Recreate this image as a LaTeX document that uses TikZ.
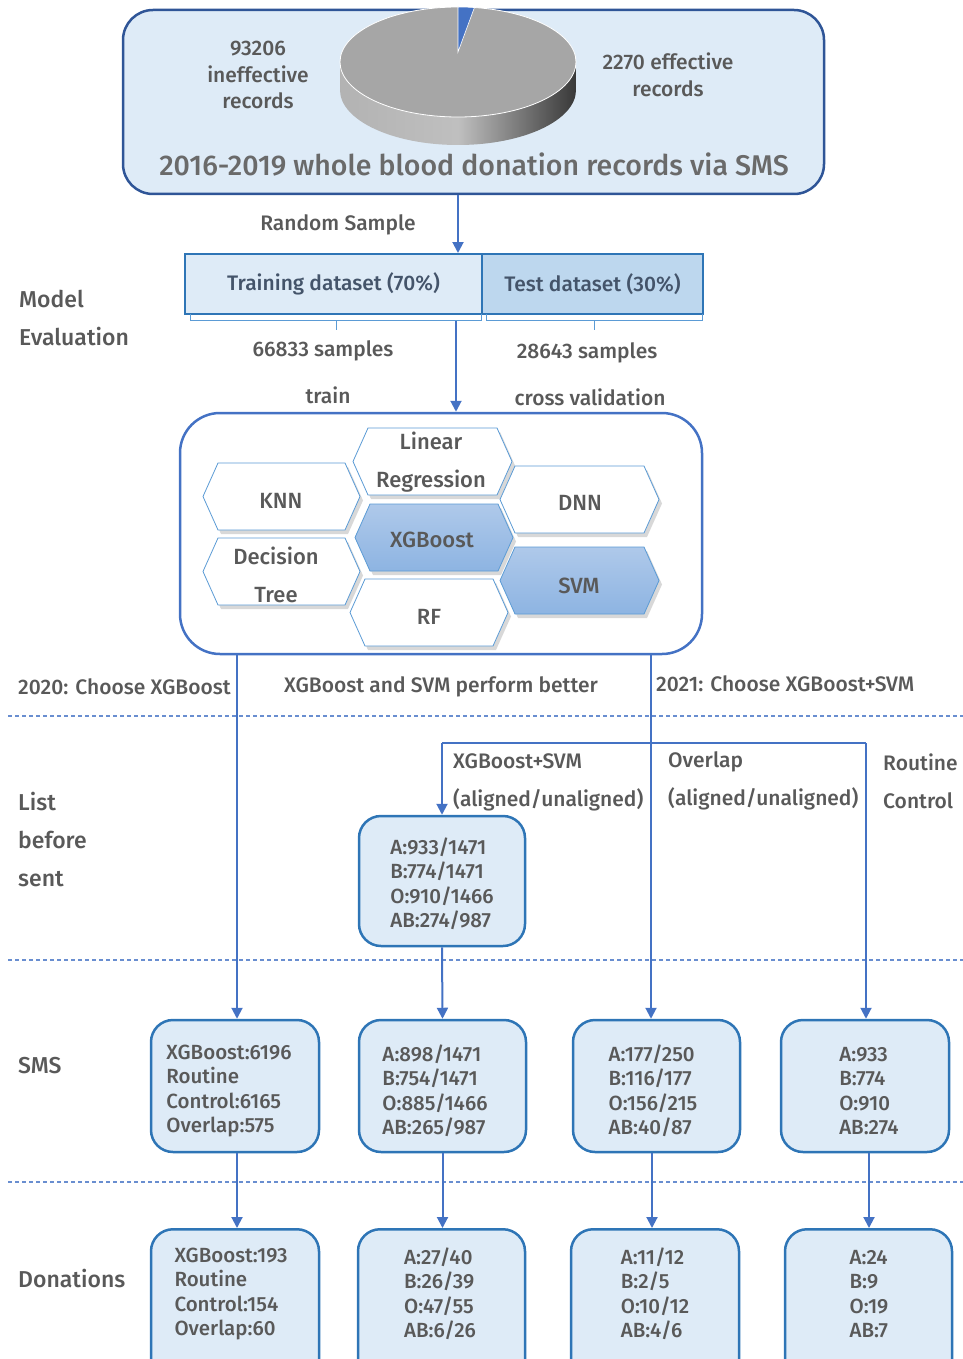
\documentclass[tikz,border=0pt]{standalone}
\usepackage{fontspec}
\setmainfont{Fira Sans Medium}
\usetikzlibrary{arrows.meta,shadows}
\definecolor{navy}{HTML}{2F5597}
\definecolor{mblue}{HTML}{2E75B6}
\definecolor{lblue}{HTML}{DEEBF7}
\definecolor{tblue}{HTML}{BDD7EE}
\definecolor{arr}{HTML}{4472C4}
\definecolor{txt}{HTML}{595959}
\definecolor{dtxt}{HTML}{44546A}
\definecolor{hexb}{HTML}{5B9BD5}
\definecolor{hexf1}{HTML}{AFC9EA}
\definecolor{hexf2}{HTML}{8DB4E2}
\definecolor{pietop}{HTML}{A6A6A6}
\newcommand\hexa[5]{\path[#1] (#2,{(#3+#5)/2}) -- (#2+15,#3) -- (#4-15,#3) -- (#4,{(#3+#5)/2}) -- (#4-15,#5) -- (#2+15,#5) -- cycle;}
\begin{document}
\begin{tikzpicture}[x=1pt,y=-1pt,
  lab/.style={text=txt, font=\fontsize{21}{24}\selectfont, inner sep=0pt},
  biglab/.style={text=txt, font=\fontsize{23}{38}\selectfont, inner sep=0pt, align=left},
  arrow/.style={draw=arr, line width=2pt, -{Triangle[length=11pt,width=11pt]}},
  plain/.style={draw=arr, line width=2pt},
  databox/.style={draw=mblue, line width=2.5pt, fill=lblue, rounded corners=22pt},
  boxtext/.style={text=txt, align=left, font=\fontsize{20.5}{24.5}\selectfont, inner sep=0pt},
  hexwhite/.style={draw=hexb, line width=0.8pt, fill=white, drop shadow={opacity=0.3, shadow xshift=3pt, shadow yshift=-4pt}},
  hexblue/.style={draw=hexb, line width=0.8pt, top color=hexf1, bottom color=hexf2, drop shadow={opacity=0.3, shadow xshift=3pt, shadow yshift=-4pt}},
  hexlab/.style={text=txt, font=\fontsize{22}{38}\selectfont, inner sep=0pt, align=center},
  sep/.style={draw=arr!80, line width=1.2pt, dash pattern=on 4pt off 3pt},
  brk/.style={draw=hexb, line width=1pt}
]
\useasboundingbox (0,0) rectangle (963,1359);
\begin{scope}
\clip (0,0) rectangle (963,1359);
% top box
\node[draw=navy, line width=2.5pt, fill=lblue, rounded corners=30pt, minimum width=701pt, minimum height=184pt] (top) at (473.5,102) {};
% pie
\shade[left color=gray!60, right color=black!78, middle color=gray!50] (340,62) -- (340,90) arc[start angle=180, end angle=360, x radius=118pt, y radius=55pt] -- (576,62) arc[start angle=0, end angle=-180, x radius=118pt, y radius=55pt] -- cycle;
\filldraw[fill=pietop, draw=white, line width=0.8pt] (458,62) ellipse [x radius=118pt, y radius=55pt];
\filldraw[fill=arr, draw=white, line width=0.6pt] (458,52) -- ([shift={(90:118pt and 55pt)}]458,62) arc[start angle=90, end angle=82, x radius=118pt, y radius=55pt] -- cycle;
\node[lab, align=center, font=\fontsize{21}{26.5}\selectfont] (ineff) at (258,75) {93206\\ineffective\\records};
\node[lab, align=center, font=\fontsize{21}{26.5}\selectfont] (eff) at (668,75) {2270 effective\\records};
\node[lab, font=\fontsize{28.5}{32}\selectfont, text=txt!90] (title) at (474,164) {2016-2019 whole blood donation records via SMS};
% datasets
\node[draw=mblue, line width=2.5pt, fill=lblue, minimum width=297pt, minimum height=60pt, text=dtxt, font=\fontsize{21}{24}\selectfont] (train) at (333.5,284) {Training dataset (70\%)};
\node[draw=mblue, line width=2.5pt, fill=tblue, minimum width=221pt, minimum height=60pt, text=dtxt, font=\fontsize{21}{24}\selectfont] (test) at (592.5,284) {Test dataset (30\%)};
\coordinate (rs) at (458,253);
\draw[arrow] (top.south -| rs) -- (rs);
\node[lab] (rsl) at (338,225) {Random Sample};
\draw[brk] (190,314) -- (190,320) -- (481,320) -- (481,314);
\draw[brk] (336,320) -- (336,330);
\draw[brk] (486,314) -- (486,320) -- (702,320) -- (702,314);
\draw[brk] (594,320) -- (594,330);
\node[lab] (n1) at (323,351) {66833 samples};
\node[lab] (n2) at (587,353) {28643 samples};
\node[lab] (trl) at (328,395) {train};
\node[lab] (cvl) at (590,397) {cross validation};
\node[biglab, anchor=west] (me) at (19,318) {Model\\Evaluation};
% model box
\node[draw=arr, line width=2.5pt, fill=white, rounded corners=40pt, minimum width=522pt, minimum height=241pt] (model) at (441,533.5) {};
\coordinate (tr0) at (456,321);
\draw[arrow] (tr0) -- (tr0 |- model.north);
% hexagons
\hexa{hexwhite}{203}{463}{360}{530}
\hexa{hexwhite}{353}{428}{512}{495}
\hexa{hexwhite}{500}{466}{659}{533}
\hexa{hexwhite}{203}{538}{360}{605}
\hexa{hexblue}{355}{504}{513}{571}
\hexa{hexwhite}{350}{579}{508}{646}
\hexa{hexblue}{500}{547}{659}{614}
\node[hexlab] (knn) at (281,501) {KNN};
\node[hexlab] (lr) at (431,462) {Linear\\Regression};
\node[hexlab] (dnn) at (580,503) {DNN};
\node[hexlab] (dt) at (276,575) {Decision\\Tree};
\node[hexlab] (xgb) at (432,540) {XGBoost};
\node[hexlab] (rf) at (429,617) {RF};
\node[hexlab] (svm) at (579,586) {SVM};
% labels row
\node[lab, anchor=west] (c20) at (18,687) {2020: Choose XGBoost};
\node[lab] (perf) at (441,687) {XGBoost and SVM perform better};
\node[lab, anchor=west] (c21) at (656,684) {2021: Choose XGBoost+SVM};
% separators
\draw[sep] (8,716) -- (963,716);
\draw[sep] (8,960) -- (963,960);
\draw[sep] (8,1182) -- (963,1182);
% list before sent
\node[biglab, anchor=west] (lbs) at (18,839) {List\\before\\sent};
\node[databox, minimum width=166pt, minimum height=130pt] (list) at (442,881) {};
\node[boxtext] (listt) at (442,884) {A:933/1471\\B:774/1471\\O:910/1466\\AB:274/987};
\node[lab, anchor=west, align=left, font=\fontsize{21}{38}\selectfont] (l1) at (453,782) {XGBoost+SVM\\(aligned/unaligned)};
\node[lab, anchor=west, align=left, font=\fontsize{21}{38}\selectfont] (l2) at (668,781) {Overlap\\(aligned/unaligned)};
\node[lab, anchor=west, align=left, font=\fontsize{21}{38}\selectfont] (l3) at (883,781) {Routine\\Control};
% SMS row
\node[biglab, anchor=west] (smsl) at (18,1066) {SMS};
\node[databox, minimum width=168pt, minimum height=132pt] (s1) at (235,1086) {};
\node[databox, minimum width=167pt, minimum height=132pt] (s2) at (442.5,1086) {};
\node[databox, minimum width=167pt, minimum height=132pt] (s3) at (656.5,1086) {};
\node[databox, minimum width=168pt, minimum height=132pt] (s4) at (865,1086) {};
\node[boxtext] (s1t) at (229,1091) {XGBoost:6196\\Routine\\Control:6165\\Overlap:575};
\node[boxtext] (s2t) at (435,1091) {A:898/1471\\B:754/1471\\O:885/1466\\AB:265/987};
\node[boxtext] (s3t) at (653,1091) {A:177/250\\B:116/177\\O:156/215\\AB:40/87};
\node[boxtext] (s4t) at (869,1091) {A:933\\B:774\\O:910\\AB:274};
% Donations row
\node[biglab, anchor=west] (donl) at (18,1278) {Donations};
\node[databox, minimum width=168pt, minimum height=160pt, anchor=north] (d1) at (235,1228) {};
\node[databox, minimum width=167pt, minimum height=160pt, anchor=north] (d2) at (441.5,1228) {};
\node[databox, minimum width=168pt, minimum height=160pt, anchor=north] (d3) at (655,1228) {};
\node[databox, minimum width=167pt, minimum height=160pt, anchor=north] (d4) at (868.5,1228) {};
\node[boxtext] (d1t) at (231,1294) {XGBoost:193\\Routine\\Control:154\\Overlap:60};
\node[boxtext] (d2t) at (440,1294) {A:27/40\\B:26/39\\O:47/55\\AB:6/26};
\node[boxtext] (d3t) at (655,1294) {A:11/12\\B:2/5\\O:10/12\\AB:4/6};
\node[boxtext] (d4t) at (869,1294) {A:24\\B:9\\O:19\\AB:7};
% connectors
\coordinate (m1) at (237,654);
\coordinate (m2) at (651,654);
\coordinate (m3) at (866,743);
\coordinate (c3) at (652,0);
\coordinate (c4) at (869,0);
\draw[arrow] (m1) -- (m1 |- s1.north);
\draw[arrow] (m2) -- (m2 |- s3.north);
\coordinate (br) at (651,743);
\draw[plain] (br) -- (442,743);
\draw[arrow] (442,743) -- (list.north);
\draw[plain] (br) -- (m3);
\draw[arrow] (m3) -- (m3 |- s4.north);
\draw[arrow] (list.south) -- (s2.north);
\draw[arrow] (s1.south -| m1) -- (d1.north -| m1);
\draw[arrow] (s2.south) -- (s2.south |- d2.north);
\draw[arrow] (s3.south -| c3) -- (d3.north -| c3);
\draw[arrow] (s4.south -| c4) -- (d4.north -| c4);
\end{scope}
\end{tikzpicture}
\end{document}
